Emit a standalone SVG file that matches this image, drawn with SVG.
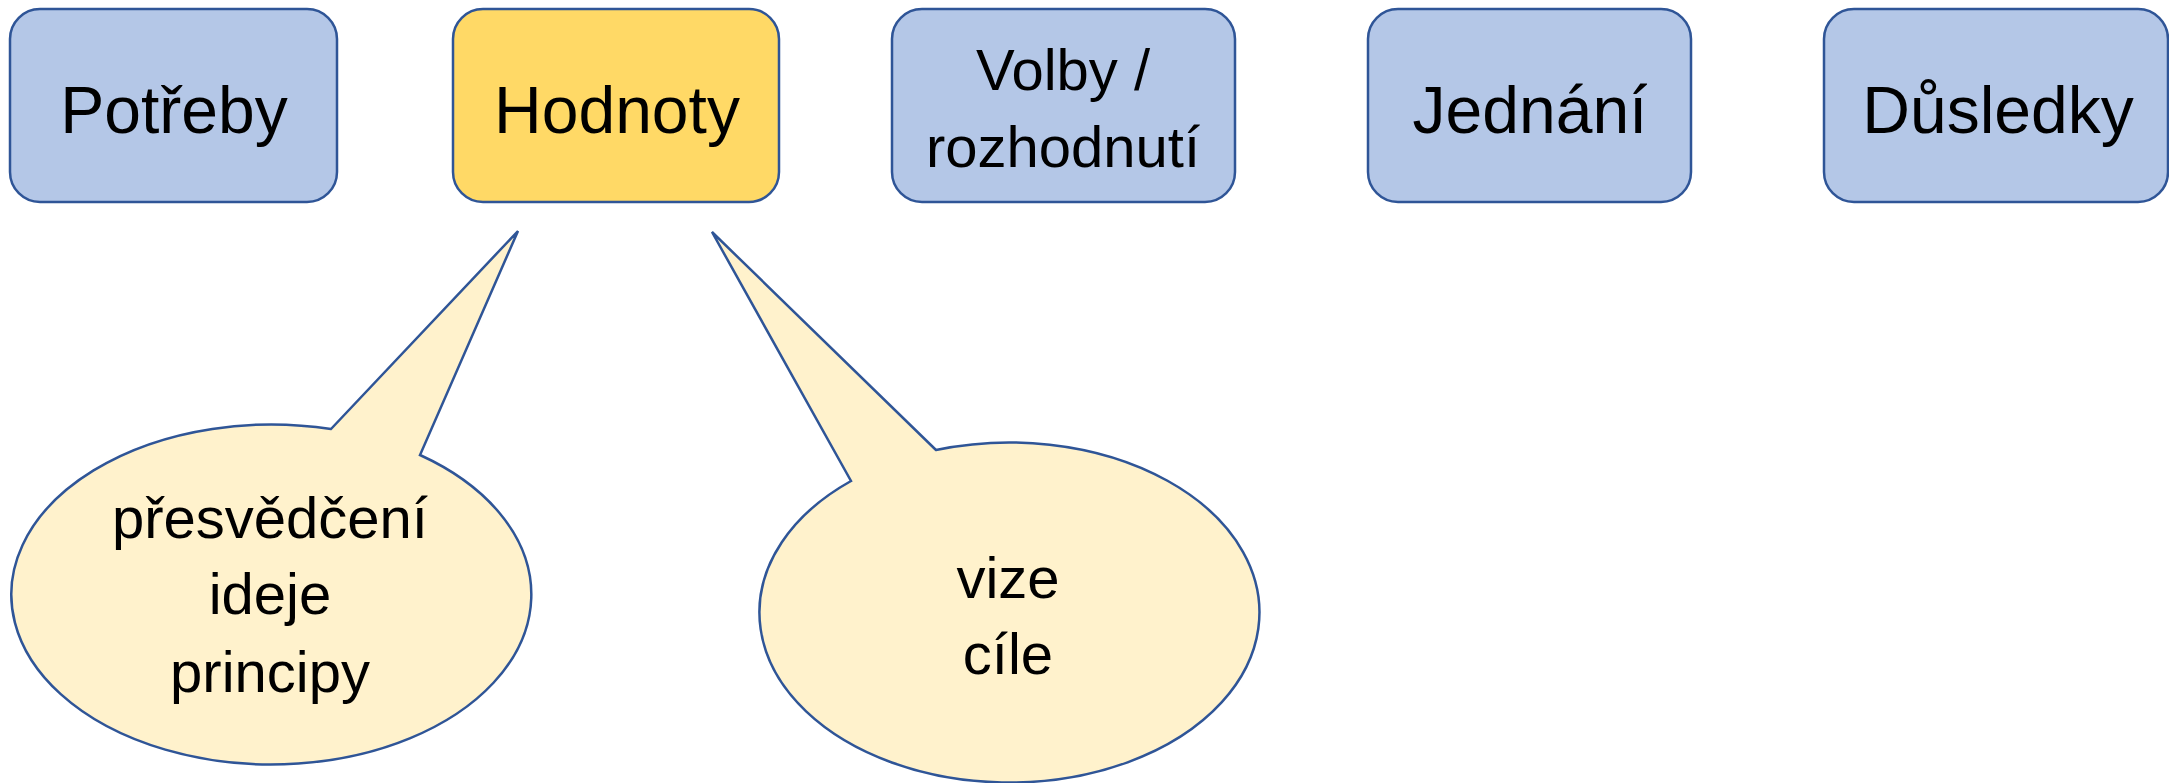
<svg xmlns="http://www.w3.org/2000/svg" width="2169" height="783" viewBox="0 0 2169 783">
<style>
.box{fill:#B4C7E7;stroke:#2F5597;stroke-width:2.5}
.hl{fill:#FFD966;stroke:#2F5597;stroke-width:2.5}
.call{fill:#FFF2CC;stroke:#2F5597;stroke-width:2.5}
text{font-family:"Liberation Sans",Arial,sans-serif;fill:#000;text-anchor:middle}
.big{font-size:66px}
.mid{font-size:58px}
</style>
<rect width="2169" height="783" fill="#FFFFFF"/>
<g id="potreby"><rect class="box" x="10" y="9" width="327" height="193" rx="30"/><text class="big" x="174" y="133">Potřeby</text></g>
<g id="hodnoty"><rect class="hl" x="453" y="9" width="326" height="193" rx="30"/><text class="big" x="617" y="133">Hodnoty</text></g>
<g id="volby"><rect class="box" x="892" y="9" width="343" height="193" rx="30"/><text class="mid" x="1063" y="90">Volby /</text><text class="mid" x="1063" y="167">rozhodnutí</text></g>
<g id="jednani"><rect class="box" x="1368" y="9" width="323" height="193" rx="30"/><text class="big" x="1530" y="133">Jednání</text></g>
<g id="dusledky"><rect class="box" x="1824" y="9" width="344" height="193" rx="30"/><text class="big" x="1998" y="133">Důsledky</text></g>
<g id="connectors"></g>
<g id="callout-left"><path class="call" d="M331,429 L518,231 L420,455 A260,170 0 1 1 331,429 Z"/><text class="mid" x="270" y="538">přesvědčení</text><text class="mid" x="270" y="614">ideje</text><text class="mid" x="270" y="692">principy</text></g>
<g id="callout-right"><path class="call" d="M936,450 L712,232 L851,481 A250,170 0 1 0 936,450 Z"/><text class="mid" x="1008" y="598">vize</text><text class="mid" x="1008" y="674">cíle</text></g>
</svg>
